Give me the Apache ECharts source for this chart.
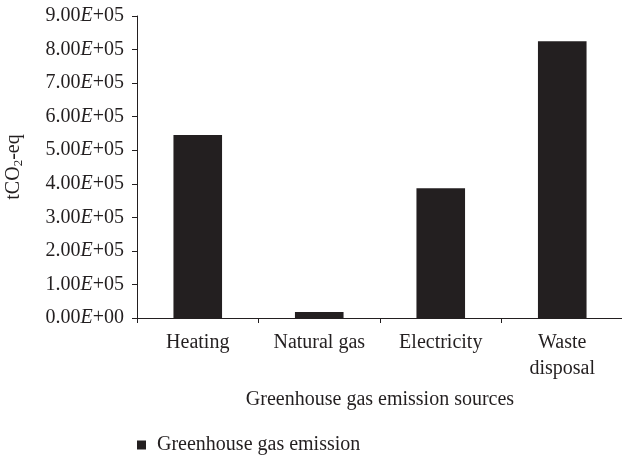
<!DOCTYPE html>
<html><head><meta charset="utf-8">
<script src="https://cdn.jsdelivr.net/npm/echarts@6/dist/echarts.min.js"></script>
<style>html,body{margin:0;padding:0;background:#fff}#c{width:622px;height:455px}</style>
</head><body><div id="c"></div>
<script>
const categories = ['Heating', 'Natural gas', 'Electricity', 'Waste\ndisposal'];
const emissions = [545000, 18000, 387000, 825000];
const seriesName = 'Greenhouse gas emission';
const yTicks = [0, 100000, 200000, 300000, 400000, 500000, 600000, 700000, 800000, 900000];

const FONT = '"Liberation Serif", "DejaVu Serif", serif';
const FS = 20;
const chart = echarts.init(document.getElementById('c'));
chart.setOption({
  animation: false,
  backgroundColor: '#fff',
  textStyle: { fontFamily: FONT, color: '#231f20' },
  grid: { left: 137, right: -1, top: 16, bottom: 137, containLabel: false, outerBoundsMode: 'none' },
  legend: {
    data: [seriesName], left: 132, top: 430, icon: 'rect', itemWidth: 9, itemHeight: 9, itemGap: 10,
    textStyle: { fontFamily: FONT, fontSize: FS, color: '#231f20', padding: [0, 0, 0, 6] }
  },
  xAxis: {
    type: 'category', data: categories,
    name: 'Greenhouse gas emission sources', nameLocation: 'middle', nameGap: 72,
    nameTextStyle: { fontFamily: FONT, fontSize: FS, color: '#231f20' },
    axisLine: { lineStyle: { color: '#231f20', width: 1 } },
    axisTick: { show: true, alignWithLabel: false, length: 5, lineStyle: { color: '#231f20' } },
    axisLabel: { fontFamily: FONT, fontSize: FS, color: '#231f20', margin: 12, lineHeight: 26, interval: 0 }
  },
  yAxis: {
    type: 'value', min: 0, max: 900000, interval: 100000,
    name: '{a|tCO}{s|2}{a|-eq}', nameLocation: 'middle', nameGap: 112, nameRotate: 90,
    nameTextStyle: { rich: {
      a: { fontFamily: FONT, fontSize: FS, color: '#231f20' },
      s: { fontFamily: FONT, fontSize: 13, color: '#231f20', verticalAlign: 'bottom', padding: [9, 0, 0, 0] }
    } },
    splitLine: { show: false },
    axisLine: { show: true, lineStyle: { color: '#231f20', width: 1 } },
    axisTick: { show: true, inside: false, length: 5, lineStyle: { color: '#231f20' } },
    axisLabel: {
      margin: 13,
      formatter: function (v) {
        const m = (v / 100000).toFixed(2);
        const e = v === 0 ? '00' : '05';
        return '{n|' + m + '}{i|E}{n|+' + e + '}';
      },
      rich: {
        n: { fontFamily: FONT, fontSize: FS, color: '#231f20' },
        i: { fontFamily: FONT, fontSize: FS, fontStyle: 'italic', color: '#231f20' }
      }
    }
  },
  series: [{
    name: seriesName, type: 'bar', data: emissions, barWidth: '40%',
    itemStyle: { color: '#231f20' }
  }]
});
</script></body></html>
